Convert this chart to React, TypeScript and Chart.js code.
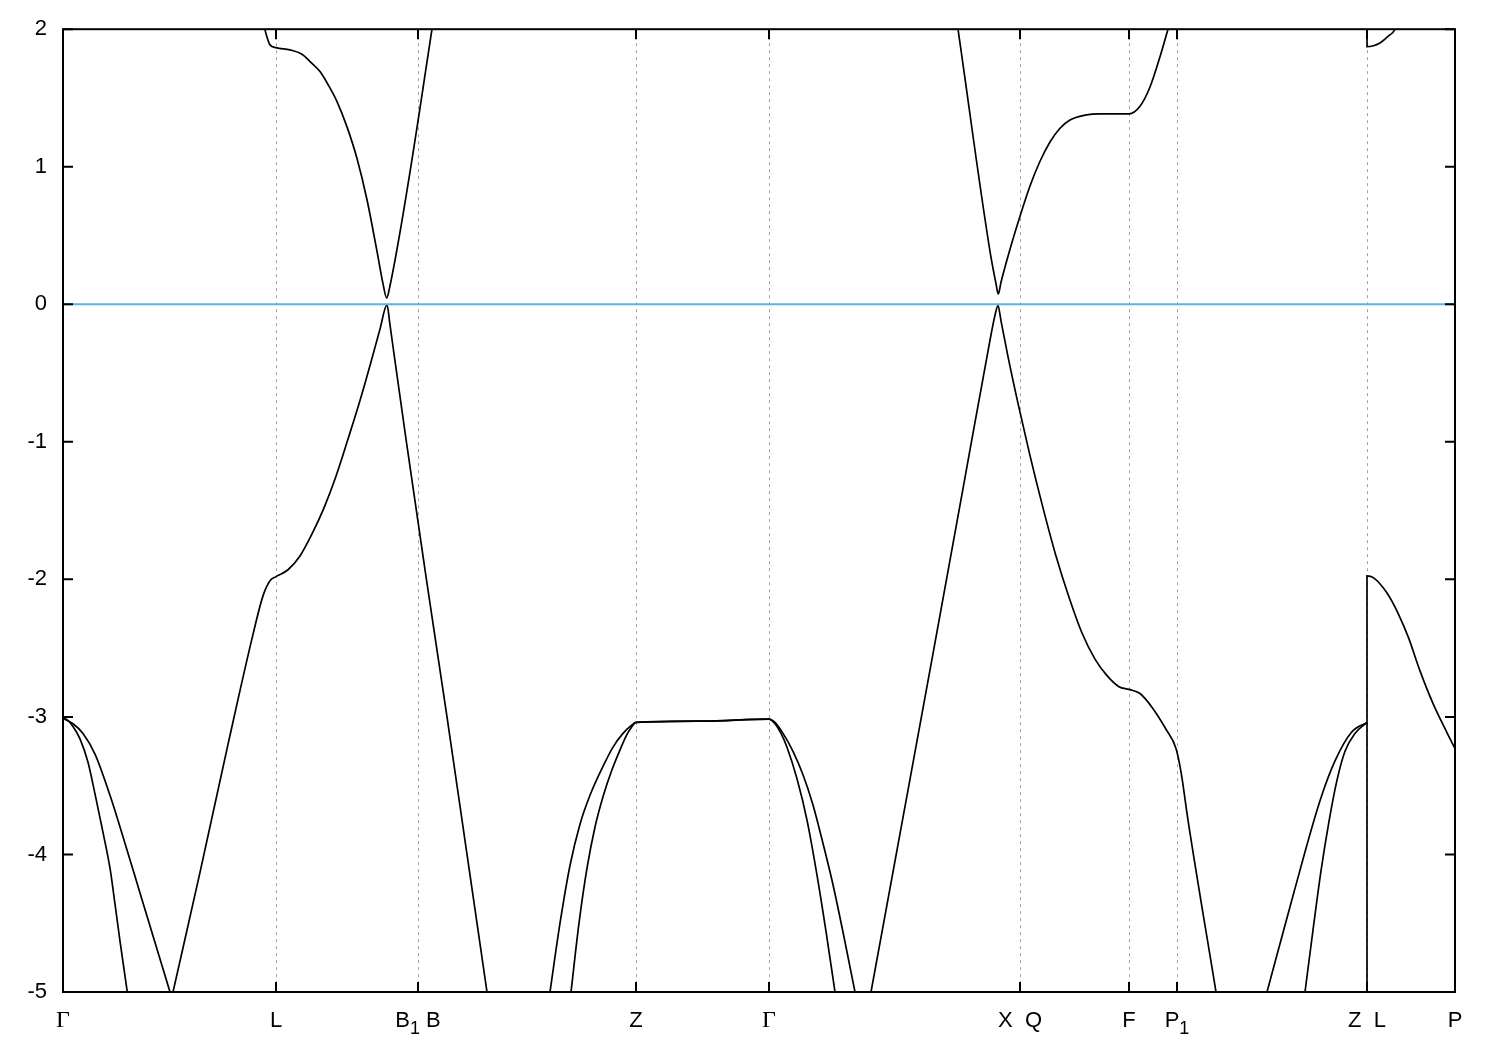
import React, { useEffect, useRef } from "react";
import { Chart, registerables } from "chart.js";

Chart.register(...registerables);

// k-path tick positions and labels ("_" marks a subscript character)
const kTicks = [0, 213, 355, 573, 706, 957, 1066, 1114, 1304, 1392];
const kLabels = ["Γ", "L", "B_1 B", "Z", "Γ", "X  Q", "F", "P_1", "Z  L", "P"];

const yTickValues = [-5, -4, -3, -2, -1, 0, 1, 2];
const yTickLabels = ["-5", "-4", "-3", "-2", "-1", "0", "1", "2"];

type Pt = [number, number];

// band segments [k, E]
const gammaBandA: Pt[] = [
  [0, -3.01], [4, -3.02], [10, -3.07], [17, -3.16], [25, -3.33], [32, -3.56],
  [40, -3.84], [47, -4.1], [52, -4.36], [57, -4.63], [64.3, -5.0],
];
const gammaBandB: Pt[] = [
  [0, -3.01], [10, -3.05], [20, -3.12], [32, -3.27], [47, -3.57], [63.7, -3.96],
  [77, -4.28], [92, -4.64], [107, -5.0],
];
const valenceB1: Pt[] = [
  [110, -5.0], [137, -4.13], [165, -3.2], [190, -2.4], [200, -2.12], [207, -2.01], [213, -1.98],
  [225, -1.93], [237, -1.83], [249, -1.67], [261, -1.48], [273, -1.25], [285, -0.98],
  [297, -0.7], [308, -0.42], [317, -0.18], [324, -0.005],
  [327, -0.15], [331, -0.36], [343, -0.98], [363, -1.98], [384, -3.0],
  [404, -4.0], [424, -5.0],
];
const conductionB1: Pt[] = [
  [199, 2.1], [202, 1.995], [205, 1.92], [207, 1.886], [213, 1.866], [227, 1.85], [239, 1.818],
  [247, 1.765], [257, 1.692], [265, 1.598], [274, 1.474], [284, 1.29], [294, 1.06],
  [304, 0.76], [314, 0.385], [320, 0.15], [323.7, 0.046], [326, 0.1], [369, 2.0], [371, 2.1],
];
const zLeftOuter: Pt[] = [
  [487, -5.0], [497, -4.5], [507, -4.08], [517, -3.78], [527, -3.57], [540, -3.36], [550, -3.22],
  [560, -3.12], [568.7, -3.06], [573, -3.04], [640, -3.03], [706, -3.016],
  [712, -3.04], [720, -3.12], [730, -3.25], [740, -3.42], [750, -3.64], [760, -3.92],
  [770, -4.22], [781, -4.6], [792, -5.0],
];
const zLeftInner: Pt[] = [
  [508, -5.0], [516, -4.5], [524, -4.1], [532, -3.8], [540, -3.58], [548.7, -3.39], [557, -3.24],
  [563.7, -3.13], [568, -3.08], [573, -3.04], [640, -3.03], [706, -3.016],
  [712, -3.05], [718, -3.12], [724, -3.22], [734, -3.45], [744, -3.75], [754, -4.15],
  [763, -4.56], [772, -5.0],
];
const valenceX: Pt[] = [
  [808, -5.0], [840, -3.73], [870, -2.54], [900, -1.34], [925, -0.34], [932, -0.08], [935, -0.01],
  [938, -0.12], [945, -0.38], [955, -0.72], [967, -1.1], [980, -1.48], [993, -1.83],
  [1006, -2.13], [1019, -2.39], [1032, -2.58], [1044, -2.7], [1056, -2.78], [1066, -2.8],
  [1077, -2.83], [1090, -2.94], [1103, -3.09], [1113, -3.23], [1118, -3.4],
  [1125, -3.75], [1153, -5.0],
];
const conductionX: Pt[] = [
  [894, 2.05], [895, 2.0], [927, 0.385], [933, 0.15], [935.3, 0.075], [938, 0.16],
  [947, 0.4], [957, 0.64], [967, 0.86], [977, 1.04], [987, 1.18], [997, 1.28], [1007, 1.34],
  [1022, 1.375], [1037, 1.385], [1066, 1.385], [1077, 1.44], [1087, 1.58], [1097, 1.8],
  [1105, 2.0], [1107, 2.05],
];
const zRightOuter: Pt[] = [
  [1204, -5.0], [1230, -4.3], [1257, -3.61], [1272, -3.32], [1288.7, -3.11], [1304, -3.04],
];
const zRightInner: Pt[] = [
  [1242, -5.0], [1250, -4.55], [1258, -4.12], [1266, -3.76], [1274, -3.46], [1282, -3.25],
  [1292, -3.12], [1304, -3.04],
];
const valenceLP: Pt[] = [
  [1304, -5.5], [1304, -1.975], [1310.3, -1.987], [1323.7, -2.096], [1335.3, -2.25],
  [1345.3, -2.42], [1357, -2.665], [1370.3, -2.907], [1383.7, -3.11], [1392, -3.23],
];
const conductionLP: Pt[] = [
  [1304, 2.5], [1304, 1.873], [1317, 1.9], [1325.3, 1.95], [1332, 2.0], [1334, 2.05],
];
const fermiLine: Pt[] = [[0, 0], [1392, 0]];

const bands: Pt[][] = [
  gammaBandA, gammaBandB, valenceB1, conductionB1, zLeftOuter, zLeftInner,
  valenceX, conductionX, zRightOuter, zRightInner, valenceLP, conductionLP,
];

const SANS = "'Liberation Sans', Arial, sans-serif";
const SERIF = "'Liberation Serif', 'Times New Roman', serif";

function drawLabel(ctx: CanvasRenderingContext2D, label: string, cx: number, baseY: number) {
  const parts: { t: string; sub: boolean }[] = [];
  for (let i = 0; i < label.length; i++) {
    if (label[i] === "_" && i + 1 < label.length) {
      parts.push({ t: label[i + 1], sub: true });
      i++;
    } else {
      const last = parts[parts.length - 1];
      if (last && !last.sub) last.t += label[i];
      else parts.push({ t: label[i], sub: false });
    }
  }
  const fontFor = (p: { t: string; sub: boolean }) => {
    if (p.t === "Γ") return `24px ${SERIF}`;
    return p.sub ? `18px ${SANS}` : `22px ${SANS}`;
  };
  let total = 0;
  const widths = parts.map((p) => {
    ctx.font = fontFor(p);
    const w = ctx.measureText(p.t).width;
    total += w;
    return w;
  });
  let x = cx - total / 2;
  ctx.textAlign = "left";
  ctx.textBaseline = "alphabetic";
  ctx.fillStyle = "#000";
  parts.forEach((p, i) => {
    ctx.font = fontFor(p);
    ctx.fillText(p.t, x, p.sub ? baseY + 7 : baseY);
    x += widths[i];
  });
}

const framePlugin = {
  id: "framePlugin",
  beforeDatasetsDraw(chart: any) {
    const { ctx, chartArea, scales } = chart;
    const xs = scales.x;
    ctx.save();
    ctx.strokeStyle = "#a0a0a0";
    ctx.lineWidth = 1;
    ctx.setLineDash([3, 4]);
    kTicks.forEach((k, i) => {
      if (i === 0 || i === kTicks.length - 1) return;
      const px = Math.round(xs.getPixelForValue(k)) + 0.5;
      ctx.beginPath();
      ctx.moveTo(px, chartArea.top);
      ctx.lineTo(px, chartArea.bottom);
      ctx.stroke();
    });
    ctx.restore();
  },
  afterDraw(chart: any) {
    const { ctx, chartArea, scales } = chart;
    const xs = scales.x;
    const ys = scales.y;
    const { left, right, top, bottom } = chartArea;
    ctx.save();
    ctx.setLineDash([]);
    ctx.strokeStyle = "#000";
    ctx.lineWidth = 2;
    ctx.strokeRect(left, top, right - left, bottom - top);
    const tl = 10;
    ctx.beginPath();
    yTickValues.forEach((v) => {
      const py = ys.getPixelForValue(v);
      ctx.moveTo(left, py);
      ctx.lineTo(left + tl, py);
      ctx.moveTo(right, py);
      ctx.lineTo(right - tl, py);
    });
    kTicks.forEach((k) => {
      const px = xs.getPixelForValue(k);
      ctx.moveTo(px, bottom);
      ctx.lineTo(px, bottom - tl);
      ctx.moveTo(px, top);
      ctx.lineTo(px, top + tl);
    });
    ctx.stroke();
    kTicks.forEach((k, i) => {
      drawLabel(ctx, kLabels[i], xs.getPixelForValue(k), bottom + 35);
    });
    ctx.restore();
  },
};

export default function App() {
  const ref = useRef<HTMLCanvasElement | null>(null);
  useEffect(() => {
    if (!ref.current) return;
    const datasets: any[] = [
      {
        data: fermiLine.map(([x, y]) => ({ x, y })),
        borderColor: "#56B4E9",
        borderWidth: 2,
        pointRadius: 0,
        tension: 0,
      },
      ...bands.map((b) => ({
        data: b.map(([x, y]) => ({ x, y })),
        borderColor: "#000",
        borderWidth: 1.7,
        pointRadius: 0,
        cubicInterpolationMode: "monotone",
      })),
    ];
    const chart = new Chart(ref.current, {
      type: "line",
      data: { datasets },
      options: {
        animation: false,
        responsive: false,
        devicePixelRatio: 1,
        parsing: false,
        layout: { padding: { top: 28, right: 45, bottom: 58, left: 0 } },
        plugins: { legend: { display: false }, tooltip: { enabled: false } },
        scales: {
          x: { type: "linear", display: false, min: 0, max: 1392 },
          y: {
            type: "linear",
            min: -5,
            max: 2,
            afterBuildTicks: (s: any) => {
              s.ticks = yTickValues.map((v) => ({ value: v }));
            },
            afterFit: (s: any) => {
              s.width = 63;
            },
            ticks: {
              padding: 16,
              color: "#000",
              font: { family: SANS, size: 22 },
              callback: (v: any) => {
                const i = yTickValues.indexOf(Number(v));
                return i >= 0 ? yTickLabels[i] : "";
              },
            },
            grid: { display: false, drawTicks: false },
            border: { display: false },
          },
        },
      },
      plugins: [framePlugin],
    });
    return () => chart.destroy();
  }, []);
  return (
    <div style={{ position: "absolute", left: 0, top: 0, width: 1500, height: 1050, background: "#fff" }}>
      <canvas ref={ref} width={1500} height={1050} />
    </div>
  );
}
